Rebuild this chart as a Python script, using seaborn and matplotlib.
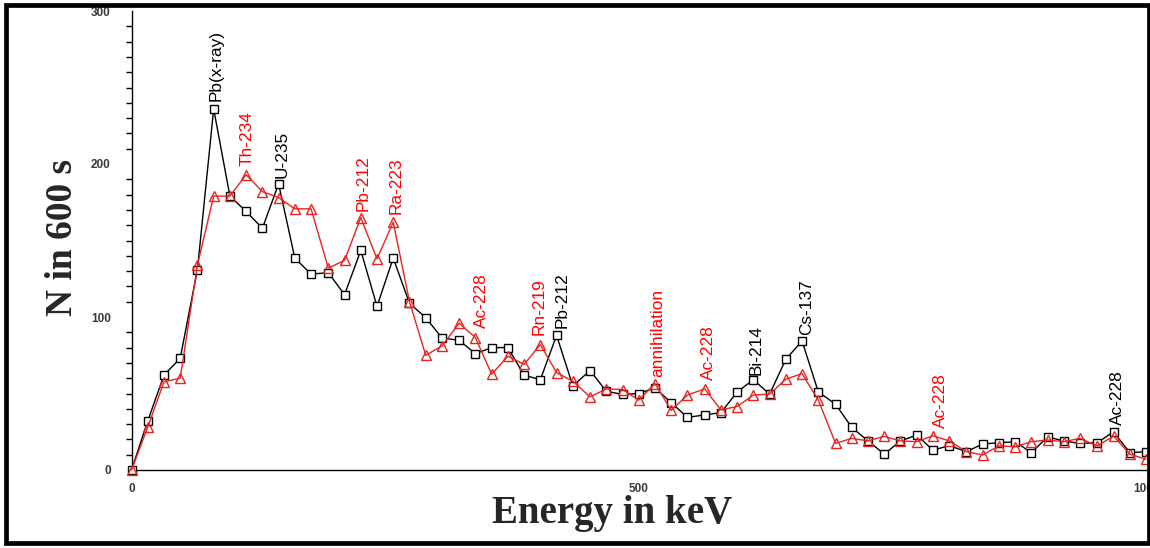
import numpy as np
import pandas as pd
import matplotlib
matplotlib.use("Agg")
import matplotlib.pyplot as plt
from matplotlib.ticker import MultipleLocator, FuncFormatter
from matplotlib.patches import Rectangle
import seaborn as sns

# ---------------- data ----------------
energy_kev = [0, 16, 32, 48, 65, 81, 97, 113, 129, 145, 161, 177, 194, 210, 226, 242,
              258, 274, 290, 306, 323, 339, 355, 371, 387, 403, 419, 435, 452, 468, 484,
              500, 516, 532, 548, 565, 581, 597, 613, 629, 645, 661, 677, 694, 710, 726,
              742, 758, 774, 790, 806, 823, 839, 855, 871, 887, 903, 919, 935, 952, 968,
              984, 1000]

counts_black = [0, 32, 62, 73, 131, 236, 179, 169, 158, 187, 138.5, 128, 129, 114.6, 143.5,
                107, 138.5, 109, 99.6, 86.3, 84.8, 76, 80, 80, 62, 59, 88, 55, 65, 51.5,
                49.4, 50, 53.7, 44, 34.4, 36, 37.5, 51, 59, 49.6, 72.4, 84.3, 51, 43, 27.8,
                19, 10.4, 19, 22.8, 13, 15.9, 12, 17, 17.8, 18.5, 11.3, 21.7, 18.9, 17.4,
                17.8, 25, 11.3, 12]

counts_red = [0, 28, 57.6, 60, 134, 179, 179, 193, 182, 178, 170.7, 170.7, 132, 137, 165,
              138, 162, 110, 75, 81, 96, 86.5, 62.6, 74.4, 69, 82, 63.7, 58, 47.8, 53,
              52.6, 45.7, 56.5, 39, 49, 53, 39.3, 41.5, 49, 49.6, 59.4, 63, 45.7, 17.4,
              20.7, 19, 22, 19, 18.5, 22.4, 19, 12, 9.8, 15.7, 15.2, 18.5, 19.6, 18.5,
              20.7, 15.7, 22.2, 10.4, 7]

# peak labels: text, colour, energy (keV), count level of text bottom
peak_labels = ["Pb(x-ray)", "Th-234", "U-235", "Pb-212", "Ra-223", "Ac-228", "Rn-219",
               "Pb-212", "annihilation", "Ac-228", "Bi-214", "Cs-137", "Ac-228", "Ac-228"]
peak_colors = ["black", "red", "black", "red", "red", "red", "red",
               "black", "red", "red", "black", "black", "red", "black"]
peak_energy = [83, 114, 148, 228, 261, 345, 402, 424, 519, 569, 616, 665, 797, 972]
peak_level = [241, 199, 191, 169, 167, 92.6, 88, 92.6, 60.7, 58.7, 62, 88, 27.4, 29.4]

x_ticks_labelled = [0, 500, 1000]

# ---------------- plotting ----------------
sns.set_style("white")
plt.rcParams["font.family"] = ["Liberation Sans", "DejaVu Sans"]

W, H = 1150, 548
fig = plt.figure(figsize=(W / 100, H / 100), dpi=100)
left_px, right_px, top_px, bottom_px = 131.5, 1150, 11, 470
ax = fig.add_axes([left_px / W, 1 - bottom_px / H,
                   (right_px - left_px) / W, (bottom_px - top_px) / H])

df_black = pd.DataFrame({"Energy": energy_kev, "N": counts_black})
df_red = pd.DataFrame({"Energy": energy_kev, "N": counts_red})

sns.lineplot(data=df_black, x="Energy", y="N", ax=ax, color="black", linewidth=1.0,
             marker="s", markersize=5.2, markerfacecolor="white",
             markeredgecolor="black", markeredgewidth=1.0, clip_on=False, zorder=3)
sns.lineplot(data=df_red, x="Energy", y="N", ax=ax, color="#e8231f", linewidth=1.0,
             marker="^", markersize=6.8, markerfacecolor="none",
             markeredgecolor="#e8231f", markeredgewidth=1.0, clip_on=False, zorder=4)

ax.set_xlim(0, (right_px - left_px) / 1.0145)
ax.set_ylim(0, 300)

for s in ["top", "right"]:
    ax.spines[s].set_visible(False)
for s in ["left", "bottom"]:
    ax.spines[s].set_color("black")
    ax.spines[s].set_linewidth(1.0)

ax.xaxis.set_major_locator(MultipleLocator(100))
ax.xaxis.set_major_formatter(FuncFormatter(
    lambda v, p: f"{int(round(v))}" if int(round(v)) in x_ticks_labelled else ""))
ax.yaxis.set_major_locator(MultipleLocator(100))
ax.yaxis.set_minor_locator(MultipleLocator(10))
ax.tick_params(axis="x", which="major", direction="out", length=6.5, width=1.0,
               color="black", labelsize=8.5, labelcolor="#3a3a3a", pad=3)
ax.tick_params(axis="y", which="major", direction="out", length=13, width=1.0,
               color="black", labelsize=8.5, labelcolor="#3a3a3a", pad=2)
ax.tick_params(axis="y", which="minor", direction="out", length=4.5, width=1.0,
               color="black", left=True)
for lab in ax.get_xticklabels() + ax.get_yticklabels():
    lab.set_fontweight("bold")

ax.set_xlabel("Energy in keV", fontsize=28, fontweight="bold",
              family=["Liberation Serif", "DejaVu Serif"])
ax.xaxis.label.set_va("baseline")
ax.xaxis.set_label_coords((612 - left_px) / (right_px - left_px),
                          (bottom_px - 523) / (bottom_px - top_px))
ax.set_ylabel("N in 600 s", fontsize=27, fontweight="bold",
              family=["Liberation Serif", "DejaVu Serif"])
ax.yaxis.label.set_va("center")
ax.yaxis.set_label_coords((62 - left_px) / (right_px - left_px),
                          (bottom_px - 237) / (bottom_px - top_px))

for txt, col, ex, lv in zip(peak_labels, peak_colors, peak_energy, peak_level):
    ax.text(ex, lv, txt, color=col, rotation=90, ha="center", va="bottom",
            fontsize=12.4, zorder=5)

# outer black frame of the picture
fig.add_artist(Rectangle((6 / W, 1 - 543 / H), (1149 - 6) / W, (543 - 5) / H,
                         transform=fig.transFigure, fill=False, edgecolor="black",
                         linewidth=3.4, zorder=10))

fig.savefig("out.png", dpi=100, facecolor="white")
